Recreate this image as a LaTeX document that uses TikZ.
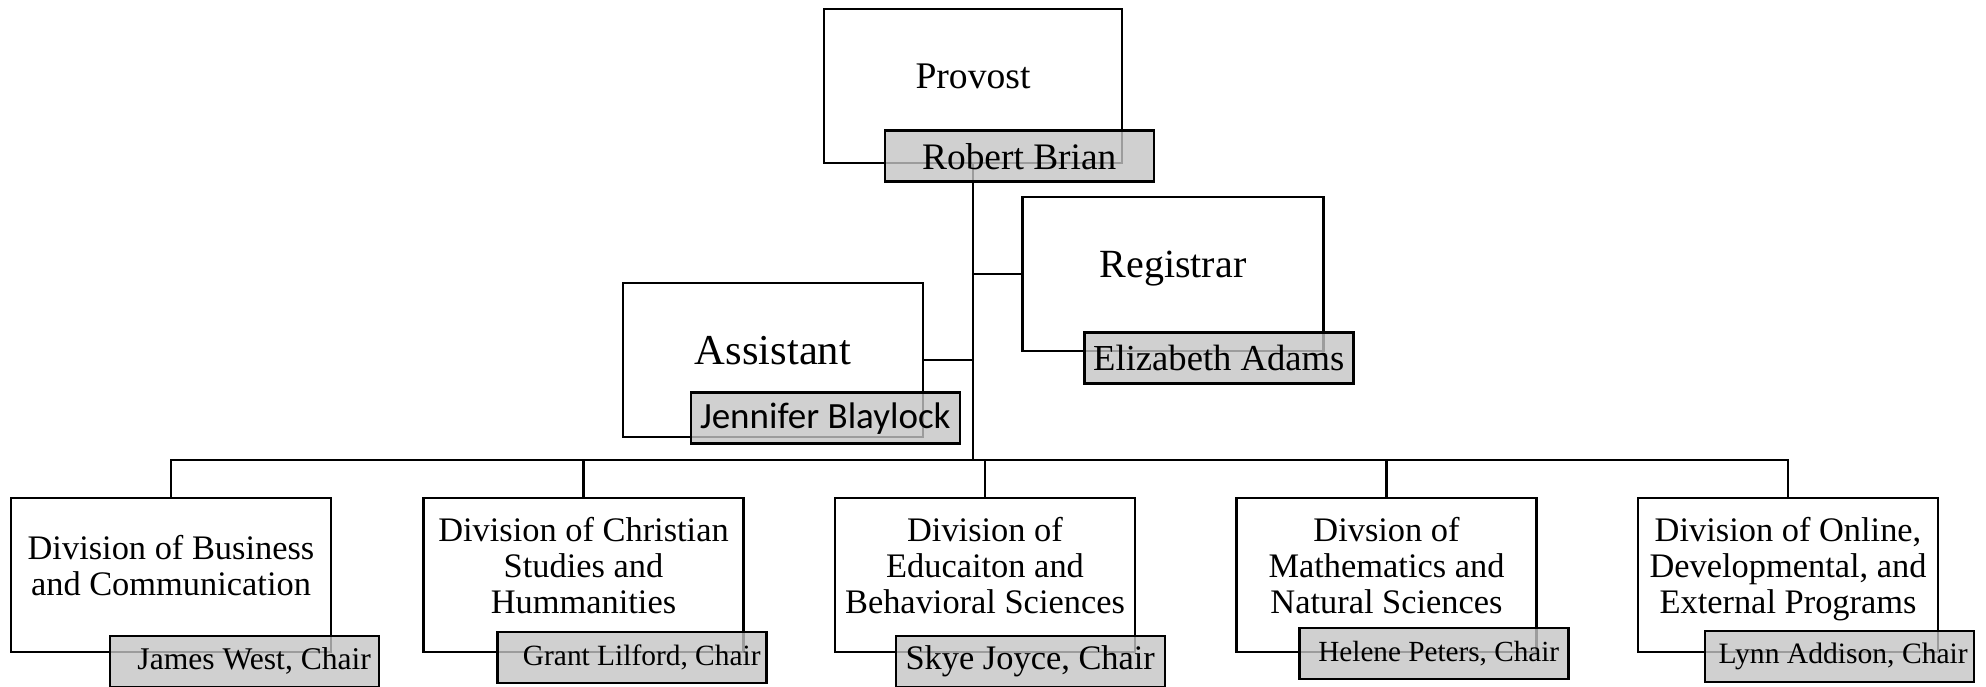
\documentclass[tikz,border=0pt]{standalone}
\usepackage{fontspec}
\setmainfont{Liberation Serif}
\newfontfamily\calibfont{Carlito}
\usetikzlibrary{positioning}
\newcommand{\sz}[1]{\fontsize{#1}{18pt}\selectfont}
\newcommand{\lift}{\rule[-10pt]{0pt}{0pt}}

\begin{document}
\begin{tikzpicture}[x=1pt,y=1pt,
  officebox/.style={draw,line width=1.25pt,minimum width=150pt,minimum height=77pt,align=center,inner sep=2pt},
  divbox/.style={officebox,font=\sz{17.2}},
  chairbox/.style={draw,line width=1.25pt,fill=gray!46,fill opacity=0.8,text opacity=1,minimum width=134.5pt,minimum height=25.5pt,inner sep=1pt},
  conn/.style={line width=1.25pt}]
\useasboundingbox (0,0) rectangle (993,343);
\node[officebox,minimum width=149pt,font=\sz{18.8}] (provost) at (486.5,300) {Provost\lift};
\node[officebox,minimum width=150.5pt,font=\sz{20}] (registrar) at (586.5,206) {Registrar\lift};
\node[officebox,font=\sz{21.3}] (assistant) at (386.5,163) {Assistant\lift};
\coordinate (hub) at (486.5,113);
% divisions
\node[divbox,minimum width=160pt] (bus) at (85.5,55.5) {Division of Business\\and Communication\lift};
\node[divbox,minimum width=160pt,right=45pt of bus] (chr) {Division of Christian\\Studies and\\Hummanities\lift};
\node[divbox,right=44.5pt of chr] (edu) {Division of\\Educaiton and\\Behavioral Sciences\lift};
\node[divbox,right=49.5pt of edu] (math) {Divsion of\\Mathematics and\\Natural Sciences\lift};
\node[divbox,right=49.5pt of math] (online) {Division of Online,\\Developmental, and\\External Programs\lift};
% lines
\draw[conn] (provost.south) -- (hub);
\draw[conn] (bus.north) |- (hub) -| (online.north);
\draw[conn] (chr.north) -- (chr.north |- hub);
\draw[conn] (edu.north) -- (edu.north |- hub);
\draw[conn] (math.north) -- (math.north |- hub);
\draw[conn] (assistant.east) -- (assistant.east -| hub);
\draw[conn] (registrar.west) -- (registrar.west -| hub);
% names on top
\node[chairbox,font=\sz{18.7},xshift=-52pt,yshift=4pt] (robert) at (provost.south east) {Robert Brian};
\node[chairbox,font=\sz{18.3},xshift=-53pt,yshift=-3pt] (elizabeth) at (registrar.south east) {Elizabeth Adams};
\node[chairbox,font=\calibfont\sz{18.5},xshift=-49.5pt,yshift=10pt] (jennifer) at (assistant.south east) {Jennifer Blaylock};
\node[chairbox,font=\sz{15.8},xshift=-44pt,yshift=-4pt] (james) at (bus.south east) {\hspace{10pt}James West, Chair};
\node[chairbox,font=\sz{14.7},xshift=-56.5pt,yshift=-2pt] (grant) at (chr.south east) {\hspace{10pt}Grant Lilford, Chair};
\node[chairbox,font=\sz{17.2},xshift=-53pt,yshift=-4pt] (skye) at (edu.south east) {Skye Joyce, Chair};
\node[chairbox,font=\sz{14.6},xshift=-52pt,yshift=0pt] (helene) at (math.south east) {\hspace{5pt}Helene Peters, Chair};
\node[chairbox,font=\sz{14.8},xshift=-50pt,yshift=-1.5pt] (lynn) at (online.south east) {\hspace{4pt}Lynn Addison, Chair};
\end{tikzpicture}
\end{document}
